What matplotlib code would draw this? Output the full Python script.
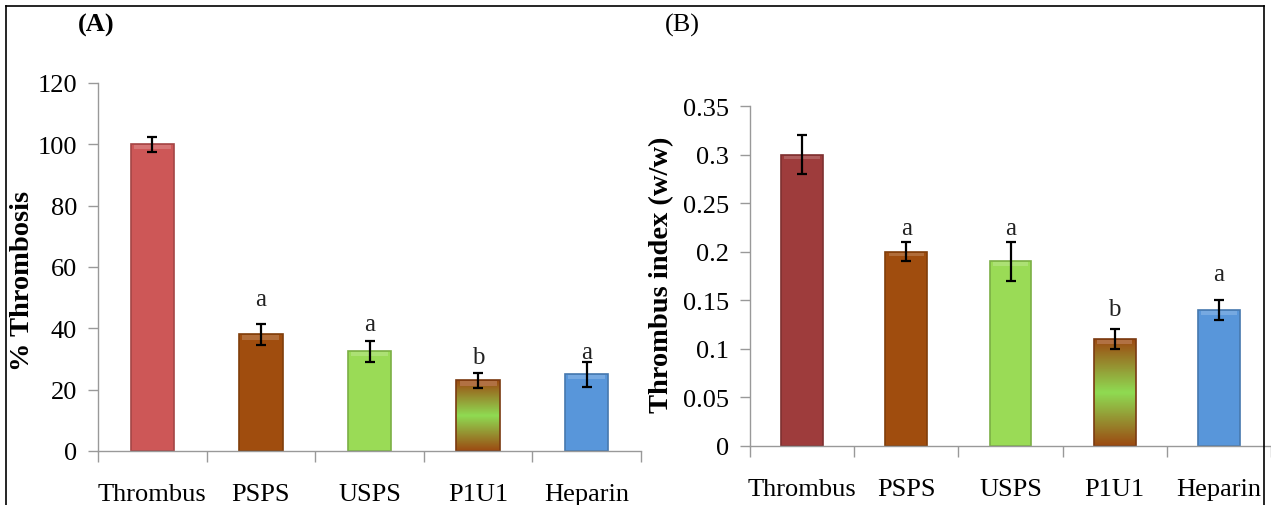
import numpy as np
import matplotlib
matplotlib.use("Agg")
import matplotlib.pyplot as plt
from matplotlib.colors import LinearSegmentedColormap, to_rgb
from matplotlib.lines import Line2D

plt.rcParams['font.family'] = ['Liberation Serif', 'DejaVu Serif']

groups = ["Thrombus", "PSPS", "USPS", "P1U1", "Heparin"]

# panel A: % thrombosis
thromb_pct = [100, 38, 32.5, 23, 25]
thromb_pct_err = [2.5, 3.5, 3.5, 2.5, 4]
letters_a = ["", "a", "a", "b", "a"]
letter_y_a = [0, 49.6, 41.4, 30.6, 32.3]

# panel B: thrombus index (w/w)
thromb_idx = [0.30, 0.20, 0.19, 0.11, 0.14]
thromb_idx_err = [0.02, 0.01, 0.02, 0.01, 0.01]
letters_b = ["", "a", "a", "b", "a"]
letter_y_b = [0, 0.224, 0.224, 0.141, 0.177]

colors_a = ["#CD5757", "#A04D0E", "#9ADB56", None, "#5896DA"]
colors_b = ["#9E3C3C", "#A04D0E", "#9ADB56", None, "#5896DA"]
grad = LinearSegmentedColormap.from_list("p1u1", ["#9C4B12", "#8FDB52", "#9C4B12"])


def shade(c, f):
    r = np.array(to_rgb(c))
    return tuple(np.clip(r * f, 0, 1))


def lighten(c, f):
    r = np.array(to_rgb(c))
    return tuple(r + (1 - r) * f)


def panel(ax, vals, errs, colors, letters, letter_y, ymax, yticks, ylabel):
    x = np.arange(len(groups))
    bars = ax.bar(x, vals, width=0.4, color=[c if c else "none" for c in colors],
                  edgecolor=[shade(c, 0.8) if c else "#7a3a10" for c in colors],
                  linewidth=1.2, zorder=2)
    # soft bevel highlight on top of each bar
    band = ymax * 0.014
    for b, c in zip(bars, colors):
        if c is None:
            ax.imshow(np.linspace(0, 1, 100).reshape(-1, 1), cmap=grad, aspect="auto",
                      extent=(b.get_x(), b.get_x() + b.get_width(), 0, b.get_height()),
                      zorder=1.9)
            c = "#A0521A"
        ax.add_patch(plt.Rectangle((b.get_x() + 0.03, b.get_height() - band),
                                   b.get_width() - 0.06, band * 0.8,
                                   color=lighten(c, 0.18), zorder=2.5, lw=0))
    ax.errorbar(x, vals, yerr=errs, fmt="none", ecolor="black", elinewidth=1.6,
                capsize=3.8, capthick=1.6, zorder=3)
    for xi, t, yy in zip(x, letters, letter_y):
        if t:
            ax.text(xi, yy, t, ha="center", va="center", fontsize=18, color="#222222")
    ax.set_xlim(-0.5, len(groups) - 0.5)
    ax.set_ylim(0, ymax)
    ax.set_yticks(yticks)
    ax.set_yticklabels([f"{t:g}" for t in yticks], fontsize=19)
    ax.set_xticks(x)
    ax.set_xticklabels(groups, fontsize=19)
    ax.set_xticks(np.arange(-0.5, len(groups)), minor=True)
    ax.tick_params(axis="x", which="major", length=0, pad=23)
    ax.tick_params(axis="x", which="minor", length=8, color="#999999", width=1)
    ax.tick_params(axis="y", length=7, color="#999999", width=1, pad=8)
    for s in ["top", "right"]:
        ax.spines[s].set_visible(False)
    for s in ["left", "bottom"]:
        ax.spines[s].set_color("#999999")
        ax.spines[s].set_linewidth(1)
    ax.set_ylabel(ylabel, fontsize=20.5, fontweight="bold", va="center")


fig = plt.figure(figsize=(12.71, 5.06), dpi=100)
ax1 = fig.add_axes([98 / 1271, 1 - 452 / 506, 543 / 1271, 368 / 506])
ax2 = fig.add_axes([750 / 1271, 1 - 447 / 506, 521 / 1271, 340 / 506])

panel(ax1, thromb_pct, thromb_pct_err, colors_a, letters_a, letter_y_a, 120,
      [0, 20, 40, 60, 80, 100, 120], "% Thrombosis")
panel(ax2, thromb_idx, thromb_idx_err, colors_b, letters_b, letter_y_b, 0.35,
      [0, 0.05, 0.1, 0.15, 0.2, 0.25, 0.3, 0.35], "Thrombus index (w/w)")

ax1.yaxis.set_label_coords(-75 / 543, 0.5 - 13 / 368)
ax2.yaxis.set_label_coords(-88 / 521, 0.5 + 2 / 340)

fig.text(96 / 1271, 1 - 25 / 506, "(A)", fontsize=19, fontweight="bold", ha="center", va="center")
fig.text(682 / 1271, 1 - 25 / 506, "(B)", fontsize=19, ha="center", va="center")

# outer frame
fx = lambda p: p / 1271
fy = lambda p: 1 - p / 506
fig.add_artist(Line2D([fx(6), fx(1264)], [fy(7), fy(7)], color="black", lw=1.2))
fig.add_artist(Line2D([fx(6), fx(6)], [fy(7), 0], color="black", lw=1.2))
fig.add_artist(Line2D([fx(1264), fx(1264)], [fy(7), 0], color="black", lw=1.2))

fig.savefig("out.png", dpi=100)
